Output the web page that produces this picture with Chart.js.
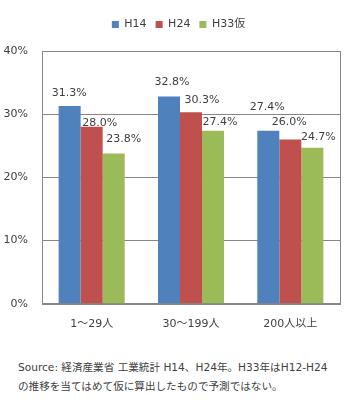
<!DOCTYPE html>
<html>
<head>
<meta charset="utf-8">
<script src="https://cdn.jsdelivr.net/npm/chart.js@4.4.1/dist/chart.umd.min.js"></script>
<style>
html,body{margin:0;padding:0;background:#fff;}
#wrap{position:relative;width:346px;height:417px;}
#c{position:absolute;left:0;top:0;}
#src{position:absolute;left:18px;top:358px;width:330px;font-family:"DejaVu Sans","Noto Sans CJK JP",sans-serif;font-size:10.6px;line-height:19px;color:#404040;white-space:nowrap;}
</style>
</head>
<body>
<div id="wrap">
<canvas id="c" width="346" height="345"></canvas>
<div id="src">Source: 経済産業省 工業統計 H14、H24年。H33年はH12-H24<br>の推移を当てはめて仮に算出したもので予測ではない。</div>
</div>
<script>
const categories = ["1～29人", "30～199人", "200人以上"];
const seriesNames = ["H14", "H24", "H33仮"];
const h14 = [31.3, 32.8, 27.4];
const h24 = [28.0, 30.3, 26.0];
const h33 = [23.8, 27.4, 24.7];
const yTicks = [0, 10, 20, 30, 40];
const colors = ["#4F81BD", "#C0504D", "#9BBB59"];
// label nudges (dx, dy above bar top) per dataset, per category
const labelDx = [[-0.5, 3, -1], [8, 11, -1], [10, 7, 6]];
const labelDy = [[13, 14, 23], [4, 12, 17], [14, 8, 11]];

const FONT = '"DejaVu Sans","Noto Sans CJK JP",sans-serif';

const labelPlugin = {
  id: 'labels',
  afterDatasetsDraw(chart) {
    const ctx = chart.ctx;
    ctx.save();
    ctx.font = '11px ' + FONT;
    ctx.fillStyle = '#404040';
    ctx.textAlign = 'center';
    ctx.textBaseline = 'middle';
    chart.data.datasets.forEach((ds, di) => {
      chart.getDatasetMeta(di).data.forEach((bar, i) => {
        ctx.fillText(ds.data[i].toFixed(1) + '%', bar.x + labelDx[di][i], bar.y - labelDy[di][i]);
      });
    });
    ctx.restore();
  }
};
const borderPlugin = {
  id: 'box',
  afterDraw(chart) {
    const a = chart.chartArea, ctx = chart.ctx;
    ctx.save();
    ctx.strokeStyle = '#868686';
    ctx.lineWidth = 1;
    ctx.strokeRect(Math.round(a.left) + 0.5, Math.round(a.top) + 0.5, Math.round(a.right - a.left), Math.round(a.bottom - a.top));
    ctx.restore();
  }
};
const legendGap = {
  id: 'legendGap',
  beforeInit(chart) {
    const orig = chart.legend.fit;
    chart.legend.fit = function () {
      orig.call(this);
      this.height += 11;
    };
  },
  afterLayout(chart) {
    chart.legend.left += 15;
  }
};

new Chart(document.getElementById('c'), {
  type: 'bar',
  data: {
    labels: categories,
    datasets: [
      { label: seriesNames[0], data: h14, backgroundColor: colors[0] },
      { label: seriesNames[1], data: h24, backgroundColor: colors[1] },
      { label: seriesNames[2], data: h33, backgroundColor: colors[2] }
    ]
  },
  options: {
    responsive: false,
    animation: false,
    layout: { padding: { left: 2, right: 6, top: 10, bottom: 0 } },
    categoryPercentage: 0.665,
    barPercentage: 1,
    plugins: {
      legend: {
        position: 'top',
        labels: {
          font: { family: FONT, size: 11 },
          color: '#404040',
          boxWidth: 7,
          boxHeight: 7,
          padding: 9
        }
      },
      tooltip: { enabled: false }
    },
    scales: {
      x: {
        grid: { display: false, drawTicks: false },
        border: { display: false },
        ticks: { font: { family: FONT, size: 11 }, color: '#404040', padding: 14 }
      },
      y: {
        min: 0, max: 40,
        afterBuildTicks(axis) { axis.ticks = yTicks.map(v => ({ value: v })); },
        afterFit(axis) { axis.width = 40; },
        grid: { color: '#868686', drawTicks: false },
        border: { display: false },
        ticks: {
          font: { family: FONT, size: 11 }, color: '#404040', padding: 14,
          callback: v => v + '%'
        }
      }
    }
  },
  plugins: [labelPlugin, borderPlugin, legendGap]
});
</script>
</body>
</html>
